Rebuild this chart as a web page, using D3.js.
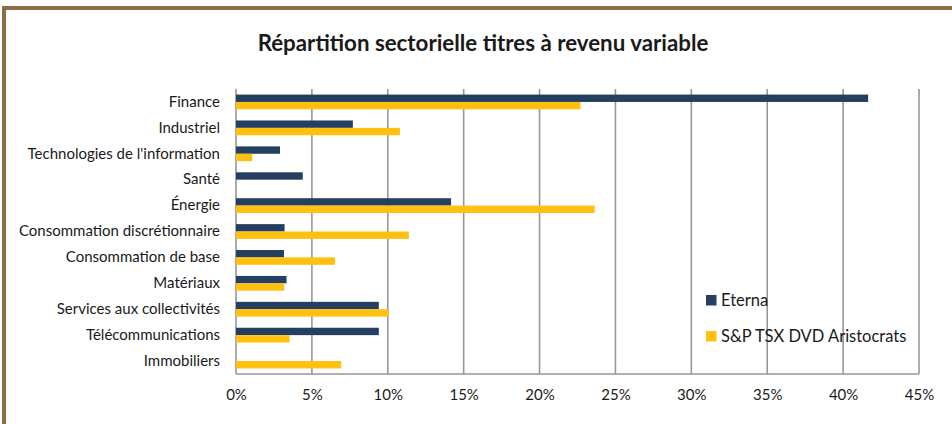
<!doctype html>
<html lang="fr">
  <head>
    <meta charset="utf-8">
    <script src="https://cdnjs.cloudflare.com/ajax/libs/d3/7.8.5/d3.min.js"></script>
    <style>
      body { margin: 0; background: #fff; }
      text { font-family: Lato, "Open Sans", sans-serif; fill: #1a1a1a; }
      .title { font-weight: bold; font-size: 22.3px; }
      .cat text { font-size: 15px; }
      .xaxis text { font-size: 15px; }
      .legend text { font-size: 16.5px; }
    </style>
    <title>Répartition sectorielle titres à revenu variable</title>
  </head>
  <body>
    <div id="chart"></div>
    <script>
      // categories, top to bottom
      var sectors = ["Finance", "Industriel", "Technologies de l'information", "Santé",
        "Énergie", "Consommation discrétionnaire", "Consommation de base", "Matériaux",
        "Services aux collectivités", "Télécommunications", "Immobiliers"];

      // series values (fractions)
      var eterna =      [0.4165, 0.077, 0.029, 0.044, 0.1417, 0.032, 0.0316, 0.0333, 0.0941, 0.0941, 0];
      var aristocrats = [0.227, 0.108, 0.0107, 0, 0.2363, 0.1139, 0.0652, 0.0318, 0.1005, 0.0353, 0.0693];

      var seriesNames = ["Eterna", "S&P TSX DVD Aristocrats"];
      var xTicks = [0, 0.05, 0.10, 0.15, 0.20, 0.25, 0.30, 0.35, 0.40, 0.45];

      var W = 952, H = 424;
      var colours = ["#243f60", "#ffc010"];

      var svg = d3.select("#chart").append("svg")
          .attr("width", W)
          .attr("height", H);

      svg.append("rect").attr("width", W).attr("height", H).attr("fill", "#fff");

      // brown frame (top + left)
      svg.append("rect").attr("x", 2).attr("y", 6).attr("width", W - 2).attr("height", 4).attr("fill", "#8c6d47");
      svg.append("rect").attr("x", 2).attr("y", 6).attr("width", 4).attr("height", H - 6).attr("fill", "#8c6d47");

      svg.append("text")
          .attr("class", "title")
          .attr("x", 483)
          .attr("y", 51)
          .attr("text-anchor", "middle")
          .text("Répartition sectorielle titres à revenu variable");

      var x = d3.scaleLinear()
          .domain([0, 0.45])
          .range([236, 919]);

      var y = d3.scaleBand()
          .domain(sectors)
          .range([89, 374])
          .paddingInner(0)
          .paddingOuter(0);

      var groupH = y.bandwidth() * 0.57;
      var ySub = d3.scaleBand()
          .domain(seriesNames)
          .range([0, groupH]);

      // gridlines
      svg.append("g")
          .selectAll("line")
          .data(xTicks)
          .join("line")
            .attr("x1", d => x(d))
            .attr("x2", d => x(d))
            .attr("y1", 89)
            .attr("y2", 374)
            .attr("stroke", "#979797")
            .attr("stroke-width", 1.6);

      // bottom axis line
      svg.append("line")
          .attr("x1", x(0)).attr("x2", x(0.45))
          .attr("y1", 374).attr("y2", 374)
          .attr("stroke", "#979797")
          .attr("stroke-width", 1.6);

      // bars
      var series = [eterna, aristocrats];
      series.forEach(function(vals, si) {
        svg.append("g")
            .selectAll("rect")
            .data(vals.map((v, i) => ({ sector: sectors[i], value: v })).filter(d => d.value > 0))
            .join("rect")
              .attr("x", x(0))
              .attr("y", d => y(d.sector) + (y.bandwidth() - groupH) / 2 + ySub(seriesNames[si]))
              .attr("width", d => x(d.value) - x(0))
              .attr("height", ySub.bandwidth())
              .attr("fill", colours[si]);
      });

      // category labels
      var yAxis = svg.append("g")
          .attr("class", "cat")
          .attr("transform", "translate(" + x(0) + ",0)")
          .call(d3.axisLeft(y).tickSize(0).tickPadding(16));
      yAxis.select(".domain").remove();

      // x labels
      var xAxis = svg.append("g")
          .attr("class", "xaxis")
          .attr("transform", "translate(0,374)")
          .call(d3.axisBottom(x).tickValues(xTicks).tickSize(0).tickPadding(15)
            .tickFormat(d => Math.round(d * 100) + "%"));
      xAxis.select(".domain").remove();

      // legend
      var legend = svg.append("g").attr("class", "legend");
      seriesNames.forEach(function(name, i) {
        var ly = 295 + i * 36;
        legend.append("rect")
            .attr("x", 706).attr("y", ly)
            .attr("width", 10.5).attr("height", 10.5)
            .attr("fill", colours[i]);
        legend.append("text")
            .attr("x", 721).attr("y", ly + 11)
            .text(name);
      });
    </script>
  </body>
</html>
